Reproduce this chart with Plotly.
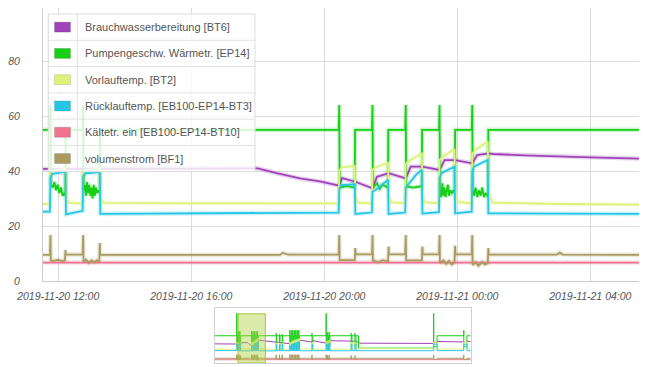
import plotly.graph_objects as go

# ---------------- main view data (2019-11-20 11:32 .. 2019-11-21 05:35) ----------------
bt6_t = ["2019-11-20 11:32:30", "2019-11-20 14:00", "2019-11-20 18:00", "2019-11-20 18:34", "2019-11-20 19:16",
         "2019-11-20 19:52", "2019-11-20 20:10", "2019-11-20 20:27", "2019-11-20 20:32", "2019-11-20 20:40",
         "2019-11-20 20:56", "2019-11-20 21:27", "2019-11-20 21:35", "2019-11-20 21:56", "2019-11-20 22:27",
         "2019-11-20 22:36", "2019-11-20 22:57", "2019-11-20 23:28", "2019-11-20 23:37", "2019-11-20 23:56",
         "2019-11-21 00:27", "2019-11-21 00:36", "2019-11-21 00:56", "2019-11-21 01:05", "2019-11-21 02:00",
         "2019-11-21 04:00", "2019-11-21 05:35"]
bt6_v = [40.8, 40.9, 41.0, 39.2, 37.3,
         36.2, 35.5, 34.7, 37.4, 36.9,
         36.1, 33.7, 37.9, 39.2, 37.3,
         41.6, 41.6, 40.4, 44.0, 44.0,
         42.8, 45.8, 46.4, 46.2, 45.7,
         45.0, 44.5]

ep14_t = ["2019-11-20 11:32:30", "2019-11-20 11:45", "2019-11-20 11:46", "2019-11-20 11:46:40", "2019-11-20 11:50",
          "2019-11-20 11:53", "2019-11-20 11:56", "2019-11-20 11:59", "2019-11-20 12:02", "2019-11-20 12:05",
          "2019-11-20 12:08", "2019-11-20 12:11", "2019-11-20 12:13", "2019-11-20 12:13:30", "2019-11-20 12:44",
          "2019-11-20 12:45", "2019-11-20 12:45:40", "2019-11-20 12:48", "2019-11-20 12:50", "2019-11-20 12:52",
          "2019-11-20 12:54", "2019-11-20 12:56", "2019-11-20 12:58", "2019-11-20 13:00", "2019-11-20 13:02",
          "2019-11-20 13:04", "2019-11-20 13:06", "2019-11-20 13:08", "2019-11-20 13:10", "2019-11-20 13:12",
          "2019-11-20 13:15", "2019-11-20 13:15:30",
          "2019-11-20 20:26", "2019-11-20 20:27", "2019-11-20 20:27:40", "2019-11-20 20:40", "2019-11-20 20:55",
          "2019-11-20 20:55:30",
          "2019-11-20 21:26", "2019-11-20 21:27", "2019-11-20 21:27:40", "2019-11-20 21:35", "2019-11-20 21:40",
          "2019-11-20 21:45", "2019-11-20 21:55", "2019-11-20 21:55:30",
          "2019-11-20 22:26", "2019-11-20 22:27", "2019-11-20 22:27:40", "2019-11-20 22:40", "2019-11-20 22:56",
          "2019-11-20 22:56:30",
          "2019-11-20 23:27", "2019-11-20 23:28", "2019-11-20 23:28:40", "2019-11-20 23:31", "2019-11-20 23:33",
          "2019-11-20 23:35", "2019-11-20 23:37", "2019-11-20 23:39", "2019-11-20 23:41", "2019-11-20 23:43",
          "2019-11-20 23:45", "2019-11-20 23:47", "2019-11-20 23:50", "2019-11-20 23:53", "2019-11-20 23:55:30",
          "2019-11-20 23:56",
          "2019-11-21 00:26", "2019-11-21 00:27", "2019-11-21 00:27:40", "2019-11-21 00:30", "2019-11-21 00:33",
          "2019-11-21 00:36", "2019-11-21 00:39", "2019-11-21 00:42", "2019-11-21 00:45", "2019-11-21 00:48",
          "2019-11-21 00:51", "2019-11-21 00:54", "2019-11-21 00:55:30", "2019-11-21 00:56",
          "2019-11-21 05:35"]
ep14_v = [55, 55, 64, 35, 34,
          36, 33, 35, 32, 34,
          31, 32, 31, 55, 55,
          64, 33, 35, 31, 36,
          32, 35, 31, 34, 30,
          35, 31, 34, 32, 33,
          32, 55,
          55, 64, 34, 34.5, 34,
          55,
          55, 64, 34, 35.5, 33.5,
          35, 34, 55,
          55, 64, 34.5, 34, 34.5,
          55,
          55, 64, 33, 30.5, 35.5,
          31, 34, 30.5, 33, 35,
          31, 33, 32, 33, 32,
          55,
          55, 64, 33, 31, 34,
          30.5, 33, 31, 34, 30.5,
          32, 31, 31.5, 55,
          55]

bt2_t = ["2019-11-20 11:32:30", "2019-11-20 11:45", "2019-11-20 11:46", "2019-11-20 11:50", "2019-11-20 12:13",
         "2019-11-20 12:14", "2019-11-20 12:20", "2019-11-20 12:44", "2019-11-20 12:45", "2019-11-20 12:50",
         "2019-11-20 13:15", "2019-11-20 13:16", "2019-11-20 13:22", "2019-11-20 16:00", "2019-11-20 20:26",
         "2019-11-20 20:27", "2019-11-20 20:31", "2019-11-20 20:55", "2019-11-20 20:56", "2019-11-20 21:01", "2019-11-20 21:26",
         "2019-11-20 21:27", "2019-11-20 21:31", "2019-11-20 21:55", "2019-11-20 21:56", "2019-11-20 22:01", "2019-11-20 22:26",
         "2019-11-20 22:27", "2019-11-20 22:31", "2019-11-20 22:56", "2019-11-20 22:57", "2019-11-20 23:02", "2019-11-20 23:27",
         "2019-11-20 23:28", "2019-11-20 23:32", "2019-11-20 23:55", "2019-11-20 23:56", "2019-11-21 00:01", "2019-11-21 00:26",
         "2019-11-21 00:27", "2019-11-21 00:31", "2019-11-21 00:55", "2019-11-21 00:56", "2019-11-21 01:04", "2019-11-21 03:00",
         "2019-11-21 05:35"]
bt2_v = [28.0, 28.0, 39.0, 40.0, 41.0,
         30.5, 28.4, 28.2, 39.5, 40.3,
         41.0, 30.5, 28.4, 28.2, 28.2,
         40.0, 41.3, 41.8, 30.5, 28.5, 28.2,
         40.5, 41.2, 43.0, 31.0, 28.6, 28.3,
         42.5, 43.5, 46.4, 31.0, 28.6, 28.3,
         44.0, 45.0, 48.0, 31.5, 28.7, 28.3,
         46.4, 47.5, 50.7, 32.0, 28.5, 28.0,
         27.8]

bt3_t = ["2019-11-20 11:32:30", "2019-11-20 11:45", "2019-11-20 11:46", "2019-11-20 11:49", "2019-11-20 12:13",
         "2019-11-20 12:14", "2019-11-20 12:44", "2019-11-20 12:45", "2019-11-20 12:49", "2019-11-20 13:15",
         "2019-11-20 13:16", "2019-11-20 16:00", "2019-11-20 20:26",
         "2019-11-20 20:27", "2019-11-20 20:30", "2019-11-20 20:55", "2019-11-20 20:56", "2019-11-20 21:26",
         "2019-11-20 21:27", "2019-11-20 21:35", "2019-11-20 21:48", "2019-11-20 21:55", "2019-11-20 21:56", "2019-11-20 22:26",
         "2019-11-20 22:27", "2019-11-20 22:31", "2019-11-20 22:45", "2019-11-20 22:56", "2019-11-20 22:57", "2019-11-20 23:27",
         "2019-11-20 23:28", "2019-11-20 23:31", "2019-11-20 23:55", "2019-11-20 23:56", "2019-11-21 00:26",
         "2019-11-21 00:27", "2019-11-21 00:30", "2019-11-21 00:55", "2019-11-21 00:56", "2019-11-21 03:00",
         "2019-11-21 05:35"]
bt3_v = [25.2, 25.2, 37.5, 39.0, 39.7,
         24.2, 25.5, 38.0, 39.2, 39.6,
         24.4, 24.5, 24.9,
         33.5, 34.9, 35.2, 24.4, 24.9,
         32.5, 33.5, 35.5, 36.8, 24.4, 24.9,
         34.0, 35.0, 38.5, 40.4, 24.5, 25.0,
         37.5, 39.2, 41.6, 24.6, 25.2,
         40.0, 41.6, 44.0, 24.6, 24.5,
         24.4]

bt10_t = ["2019-11-20 11:32:30", "2019-11-20 20:00", "2019-11-21 05:35"]
bt10_v = [6.7, 6.6, 6.7]

bf1_t = ["2019-11-20 11:32:30", "2019-11-20 11:45", "2019-11-20 11:46", "2019-11-20 11:46:40", "2019-11-20 11:50",
         "2019-11-20 12:00", "2019-11-20 12:08", "2019-11-20 12:12", "2019-11-20 12:13", "2019-11-20 12:13:40",
         "2019-11-20 12:44", "2019-11-20 12:45", "2019-11-20 12:45:40", "2019-11-20 12:50", "2019-11-20 12:55",
         "2019-11-20 13:00", "2019-11-20 13:05", "2019-11-20 13:10", "2019-11-20 13:14", "2019-11-20 13:15",
         "2019-11-20 13:15:40", "2019-11-20 18:40", "2019-11-20 18:45", "2019-11-20 18:55",
         "2019-11-20 20:26", "2019-11-20 20:27", "2019-11-20 20:27:40", "2019-11-20 20:55", "2019-11-20 20:56", "2019-11-20 20:56:40",
         "2019-11-20 21:26", "2019-11-20 21:27", "2019-11-20 21:27:40", "2019-11-20 21:38", "2019-11-20 21:45",
         "2019-11-20 21:55", "2019-11-20 21:56", "2019-11-20 21:56:40",
         "2019-11-20 22:26", "2019-11-20 22:27", "2019-11-20 22:27:40", "2019-11-20 22:56", "2019-11-20 22:57", "2019-11-20 22:57:40",
         "2019-11-20 23:27", "2019-11-20 23:28", "2019-11-20 23:28:40", "2019-11-20 23:35", "2019-11-20 23:40",
         "2019-11-20 23:45", "2019-11-20 23:50", "2019-11-20 23:55", "2019-11-20 23:56", "2019-11-20 23:56:40",
         "2019-11-21 00:26", "2019-11-21 00:27", "2019-11-21 00:27:40", "2019-11-21 00:33", "2019-11-21 00:38",
         "2019-11-21 00:45", "2019-11-21 00:50", "2019-11-21 00:55", "2019-11-21 00:56", "2019-11-21 00:56:40",
         "2019-11-21 03:00", "2019-11-21 03:05", "2019-11-21 03:10", "2019-11-21 05:35"]
bf1_v = [9.5, 9.5, 16.7, 7.5, 7.3,
         7.7, 7.2, 7.5, 11.3, 9.6,
         9.6, 16.7, 7.0, 7.8, 6.6,
         7.5, 6.8, 7.6, 6.7, 13.8,
         9.5, 9.5, 10.2, 9.6,
         9.6, 16.7, 7.6, 7.6, 12.0, 9.7,
         9.7, 16.7, 7.5, 6.8, 7.6,
         7.2, 12.5, 9.7,
         9.7, 16.7, 7.5, 7.5, 12.5, 9.7,
         9.7, 16.7, 6.5, 7.5, 6.2,
         7.3, 6.0, 6.8, 12.8, 9.7,
         9.7, 16.7, 5.8, 6.8, 5.5,
         6.9, 6.0, 6.5, 12.0, 9.6,
         9.6, 10.3, 9.6, 9.5]

# ---------------- overview data (range selector) before / after the main view ----------------
ov_bt6_pre_t = ["2019-11-19 20:23", "2019-11-20 10:45", "2019-11-20 11:15"]
ov_bt6_pre_v = [38.6, 38.3, 40.6]
ov_bt6_post_t = ["2019-11-21 12:00", "2019-11-21 21:40", "2019-11-22 04:10", "2019-11-22 12:20", "2019-11-22 12:51",
                 "2019-11-22 21:40", "2019-11-23 00:10", "2019-11-23 14:10", "2019-11-23 17:21", "2019-11-23 19:00",
                 "2019-11-23 20:00", "2019-11-25 20:35", "2019-11-25 22:50", "2019-11-26 16:25", "2019-11-26 18:30",
                 "2019-11-26 21:00"]
ov_bt6_post_v = [42.5, 39.0, 46.0, 42.5, 45.0,
                 40.0, 45.0, 43.5, 44.0, 41.0,
                 40.0, 39.5, 43.5, 42.5, 44.0,
                 43.5]

ov_ep14_pre_t = ["2019-11-19 20:23", "2019-11-20 10:45", "2019-11-20 10:46", "2019-11-20 11:13"]
ov_ep14_pre_v = [55, 100, 34, 55]
ov_ep14_post_t = ["2019-11-21 12:45", "2019-11-21 12:46", "2019-11-21 13:06", "2019-11-21 14:55", "2019-11-21 14:56",
                  "2019-11-21 15:16", "2019-11-21 16:40", "2019-11-21 16:41", "2019-11-21 17:01",
                  "2019-11-21 21:40", "2019-11-21 21:41", "2019-11-21 22:10", "2019-11-21 22:40", "2019-11-21 22:41",
                  "2019-11-21 23:10", "2019-11-21 23:40", "2019-11-21 23:41", "2019-11-22 00:10", "2019-11-22 00:40",
                  "2019-11-22 00:41", "2019-11-22 01:10", "2019-11-22 01:40", "2019-11-22 01:41", "2019-11-22 02:10",
                  "2019-11-22 02:40", "2019-11-22 02:41", "2019-11-22 03:10", "2019-11-22 03:40", "2019-11-22 03:41",
                  "2019-11-22 04:10", "2019-11-22 12:20", "2019-11-22 12:21", "2019-11-22 12:51",
                  "2019-11-22 21:40", "2019-11-22 21:41", "2019-11-22 22:10", "2019-11-22 22:40", "2019-11-22 22:41",
                  "2019-11-22 23:10", "2019-11-22 23:40", "2019-11-22 23:41", "2019-11-23 00:10",
                  "2019-11-23 14:10", "2019-11-23 14:11", "2019-11-23 14:41", "2019-11-23 16:40", "2019-11-23 16:41",
                  "2019-11-23 17:21", "2019-11-23 19:00", "2019-11-25 20:35", "2019-11-25 20:36", "2019-11-25 22:50",
                  "2019-11-26 16:25", "2019-11-26 16:26", "2019-11-26 18:30", "2019-11-26 21:00"]
ov_ep14_post_v = [60, 34, 55, 58, 34,
                  55, 58, 34, 55,
                  66, 33, 55, 66, 33,
                  55, 66, 33, 55, 66,
                  33, 55, 66, 33, 55,
                  66, 33, 55, 66, 33,
                  55, 60, 34, 55,
                  100, 33, 55, 62, 33,
                  55, 62, 33, 55,
                  60, 34, 55, 60, 34,
                  55, 30, 100, 33, 55,
                  66, 33, 55, 55]

ov_bt2_pre_t = ["2019-11-19 20:23", "2019-11-20 10:45", "2019-11-20 11:13"]
ov_bt2_pre_v = [28, 41, 28]
ov_bt2_post_t = ["2019-11-21 12:45", "2019-11-21 13:06", "2019-11-21 14:55", "2019-11-21 15:16", "2019-11-21 16:40",
                 "2019-11-21 17:01", "2019-11-21 21:40", "2019-11-21 22:10", "2019-11-21 22:40", "2019-11-21 23:10",
                 "2019-11-21 23:40", "2019-11-22 00:10", "2019-11-22 00:40", "2019-11-22 01:10", "2019-11-22 01:40",
                 "2019-11-22 02:10", "2019-11-22 02:40", "2019-11-22 03:10", "2019-11-22 03:40", "2019-11-22 04:10",
                 "2019-11-22 12:20", "2019-11-22 12:51", "2019-11-22 21:40", "2019-11-22 22:10", "2019-11-22 22:40",
                 "2019-11-22 23:10", "2019-11-22 23:40", "2019-11-23 00:10", "2019-11-23 14:10", "2019-11-23 14:41",
                 "2019-11-23 16:40", "2019-11-23 17:21", "2019-11-23 19:00", "2019-11-25 20:35", "2019-11-25 22:50",
                 "2019-11-26 16:25", "2019-11-26 18:30", "2019-11-26 21:00"]
ov_bt2_post_v = [40, 28, 40, 28, 40,
                 28, 41, 28.2, 43, 28.2,
                 45, 28.3, 46, 28.3, 47,
                 28.3, 48, 28.3, 49, 28.3,
                 41, 28, 42, 28, 44,
                 28, 46, 28, 41, 28,
                 42, 28, 29, 42, 28.5,
                 43, 28.3, 28.3]

ov_bt3_pre_t = ["2019-11-19 20:23", "2019-11-20 10:45", "2019-11-20 11:13"]
ov_bt3_pre_v = [25, 38, 25]
ov_bt3_post_t = ["2019-11-21 12:45", "2019-11-21 13:06", "2019-11-21 14:55", "2019-11-21 15:16", "2019-11-21 16:40",
                 "2019-11-21 17:01", "2019-11-21 21:40", "2019-11-21 22:10", "2019-11-21 22:40", "2019-11-21 23:10",
                 "2019-11-21 23:40", "2019-11-22 00:10", "2019-11-22 00:40", "2019-11-22 01:10", "2019-11-22 01:40",
                 "2019-11-22 02:10", "2019-11-22 02:40", "2019-11-22 03:10", "2019-11-22 03:40", "2019-11-22 04:10",
                 "2019-11-22 12:20", "2019-11-22 12:51", "2019-11-22 21:40", "2019-11-22 22:10", "2019-11-22 22:40",
                 "2019-11-22 23:10", "2019-11-22 23:40", "2019-11-23 00:10", "2019-11-23 14:10", "2019-11-23 14:41",
                 "2019-11-23 16:40", "2019-11-23 17:21", "2019-11-25 20:35", "2019-11-25 22:50", "2019-11-26 16:25",
                 "2019-11-26 18:30", "2019-11-26 21:00"]
ov_bt3_post_v = [37, 24.8, 37, 24.8, 37,
                 24.8, 35, 24.6, 37, 24.6,
                 39, 24.6, 40, 24.6, 41,
                 24.6, 42, 24.6, 43, 24.6,
                 37, 24.8, 37, 24.6, 39,
                 24.6, 41, 24.6, 37, 24.8,
                 38, 24.8, 38, 25, 38,
                 24.8, 24.8]

ov_bt10_pre_t = ["2019-11-19 20:23"]
ov_bt10_pre_v = [6.6]
ov_bt10_post_t = ["2019-11-26 21:00"]
ov_bt10_post_v = [6.6]

ov_bf1_pre_t = ["2019-11-19 20:23", "2019-11-20 10:45", "2019-11-20 10:46", "2019-11-20 11:12", "2019-11-20 11:13"]
ov_bf1_pre_v = [9.5, 16.7, 7.5, 12, 9.5]
ov_bf1_post_t = ["2019-11-21 12:45", "2019-11-21 12:46", "2019-11-21 13:06", "2019-11-21 14:55", "2019-11-21 14:56",
                 "2019-11-21 15:16", "2019-11-21 16:40", "2019-11-21 16:41", "2019-11-21 17:01",
                 "2019-11-21 21:40", "2019-11-21 21:41", "2019-11-21 22:10", "2019-11-21 22:40", "2019-11-21 22:41",
                 "2019-11-21 23:10", "2019-11-21 23:40", "2019-11-21 23:41", "2019-11-22 00:10", "2019-11-22 00:40",
                 "2019-11-22 00:41", "2019-11-22 01:10", "2019-11-22 01:40", "2019-11-22 01:41", "2019-11-22 02:10",
                 "2019-11-22 02:40", "2019-11-22 02:41", "2019-11-22 03:10", "2019-11-22 03:40", "2019-11-22 03:41",
                 "2019-11-22 04:10", "2019-11-22 12:20", "2019-11-22 12:21", "2019-11-22 12:51",
                 "2019-11-22 21:40", "2019-11-22 21:41", "2019-11-22 22:10", "2019-11-22 22:40", "2019-11-22 22:41",
                 "2019-11-22 23:10", "2019-11-22 23:40", "2019-11-22 23:41", "2019-11-23 00:10",
                 "2019-11-23 14:10", "2019-11-23 14:11", "2019-11-23 14:41", "2019-11-23 16:40", "2019-11-23 16:41",
                 "2019-11-23 17:21", "2019-11-25 20:35", "2019-11-25 20:36", "2019-11-25 22:50",
                 "2019-11-26 16:25", "2019-11-26 16:26", "2019-11-26 18:30", "2019-11-26 21:00"]
ov_bf1_post_v = [16.5, 7.2, 9.5, 16.5, 7.2,
                 9.5, 16.5, 7.2, 9.5,
                 16.7, 7, 9.6, 16.7, 7,
                 9.6, 16.7, 7, 9.6, 16.7,
                 7, 9.6, 16.7, 7, 9.6,
                 16.7, 7, 9.6, 16.7, 7,
                 9.6, 16, 7.2, 9.5,
                 16.7, 7, 9.6, 16, 7,
                 9.6, 16, 7, 9.6,
                 15, 7.2, 9.5, 15, 7.2,
                 9.5, 16, 7, 9.5,
                 16, 7, 9.5, 9.5]

# ---------------- labels / axes ----------------
series_names = ["Brauchwasserbereitung [BT6]", "Pumpengeschw. Wärmetr. [EP14]", "Vorlauftemp. [BT2]",
                "Rücklauftemp. [EB100-EP14-BT3]", "Kältetr. ein [EB100-EP14-BT10]", "volumenstrom [BF1]"]
series_colors = ["#a043b8", "#16cf16", "#def27a", "#26c6e6", "#f0738f", "#a99a5f"]
x_tickvals = ["2019-11-20 12:00", "2019-11-20 16:00", "2019-11-20 20:00", "2019-11-21 00:00", "2019-11-21 04:00"]
x_ticktext = ["2019-11-20 12:00", "2019-11-20 16:00", "2019-11-20 20:00", "2019-11-21 00:00", "2019-11-21 04:00"]
y_tickvals = [0, 20, 40, 60, 80]
main_range = ["2019-11-20 11:32:30", "2019-11-21 05:35"]
main_yrange = [0, 99.3]
overview_range = ["2019-11-19 20:23", "2019-11-26 21:00"]

main_series = [(bt6_t, bt6_v), (ep14_t, ep14_v), (bt2_t, bt2_v), (bt3_t, bt3_v), (bt10_t, bt10_v), (bf1_t, bf1_v)]
ov_series = [
    (ov_bt6_pre_t, ov_bt6_pre_v, ov_bt6_post_t, ov_bt6_post_v, "linear"),
    (ov_ep14_pre_t, ov_ep14_pre_v, ov_ep14_post_t, ov_ep14_post_v, "hv"),
    (ov_bt2_pre_t, ov_bt2_pre_v, ov_bt2_post_t, ov_bt2_post_v, "hv"),
    (ov_bt3_pre_t, ov_bt3_pre_v, ov_bt3_post_t, ov_bt3_post_v, "hv"),
    (ov_bt10_pre_t, ov_bt10_pre_v, ov_bt10_post_t, ov_bt10_post_v, "hv"),
    (ov_bf1_pre_t, ov_bf1_pre_v, ov_bf1_post_t, ov_bf1_post_v, "hv"),
]

fig = go.Figure()

# glow under main lines
for (t, v), c in zip(main_series, series_colors):
    fig.add_trace(go.Scatter(x=t, y=v, mode="lines", line=dict(color=c, width=4.5), opacity=0.22,
                             hoverinfo="skip", showlegend=False, xaxis="x", yaxis="y"))
for (t, v), c, n in zip(main_series, series_colors, series_names):
    fig.add_trace(go.Scatter(x=t, y=v, mode="lines", name=n, line=dict(color=c, width=1.8),
                             showlegend=False, xaxis="x", yaxis="y"))

# overview traces
for (pt, pv, qt, qv, shp), (t, v), c in zip(ov_series, main_series, series_colors):
    fig.add_trace(go.Scatter(x=pt + t + qt, y=pv + v + qv, mode="lines",
                             line=dict(color=c, width=1, shape=shp),
                             hoverinfo="skip", showlegend=False, xaxis="x2", yaxis="y2"))

# geometry: the page body adds an 8px offset, so the figure is laid out in page pixels minus 8
OFF = 8
W, H = 647 - OFF, 367 - OFF
ML, MT = 43 - OFF, 8 - OFF
MR, MB = 4, 4
PW = W - ML - MR
PH = H - MT - MB


def px(xp):
    return (xp - OFF - ML) / PW


def py(yp):
    return (H - MB - (yp - OFF)) / PH


shapes = []
annotations = []

# overview highlight (current view window)
shapes.append(dict(type="rect", xref="x2", yref="y2", x0=main_range[0], x1=main_range[1],
                   y0=main_yrange[0], y1=main_yrange[1], layer="above",
                   fillcolor="rgba(178,208,70,0.45)", line=dict(color="rgba(150,190,40,0.85)", width=1)))

# legend table
lx0, lx1, ly0, ly1 = 48.3, 255, 14, 171.7
rowh = (ly1 - ly0) / len(series_names)
shapes.append(dict(type="rect", xref="paper", yref="paper", x0=px(lx0), x1=px(lx1), y0=py(ly1), y1=py(ly0),
                   layer="above", fillcolor="rgba(255,255,255,0.82)", line=dict(color="#dddddd", width=1)))
shapes.append(dict(type="line", xref="paper", yref="paper", x0=px(77.3), x1=px(77.3), y0=py(ly1), y1=py(ly0),
                   layer="above", line=dict(color="#e2e2e2", width=1)))
for i, (n, c) in enumerate(zip(series_names, series_colors)):
    top = ly0 + i * rowh
    cy = top + rowh / 2
    if i > 0:
        shapes.append(dict(type="line", xref="paper", yref="paper", x0=px(lx0), x1=px(lx1), y0=py(top), y1=py(top),
                           layer="above", line=dict(color="#e2e2e2", width=1)))
    shapes.append(dict(type="rect", xref="paper", yref="paper", x0=px(54.5), x1=px(70.5), y0=py(cy + 5), y1=py(cy - 5),
                       layer="above", fillcolor=c, line=dict(color="rgba(0,0,0,0.12)", width=1)))
    annotations.append(dict(xref="paper", yref="paper", x=px(82.5), y=py(cy), text=n, showarrow=False,
                            xanchor="left", yanchor="middle",
                            font=dict(family="Liberation Sans, Arial, sans-serif", size=11, color="#555555")))

tick_font = dict(family="Liberation Sans, Arial, sans-serif", size=10.5, color="#555555", style="italic")

fig.update_layout(
    width=W, height=H,
    margin=dict(l=ML, r=MR, t=MT, b=MB, autoexpand=False),
    paper_bgcolor="white", plot_bgcolor="white",
    showlegend=False,
    shapes=shapes, annotations=annotations,
    xaxis=dict(domain=[0, 1], anchor="y", type="date", range=main_range,
               tickvals=x_tickvals, ticktext=x_ticktext, tickfont=tick_font, ticks="",
               ticklabelstandoff=5,
               showgrid=True, gridcolor="#dcdcdc", gridwidth=1, zeroline=False,
               showline=True, mirror=True, linecolor="#cccccc", linewidth=1),
    yaxis=dict(domain=[py(281), py(8)], anchor="x", range=main_yrange,
               tickvals=y_tickvals, tickfont=tick_font, ticks="", ticklabelstandoff=20,
               showgrid=True, gridcolor="#dcdcdc", gridwidth=1, zeroline=False,
               showline=True, mirror=True, linecolor="#cccccc", linewidth=1),
    xaxis2=dict(domain=[px(215), px(470.7)], anchor="y2", type="date", range=overview_range,
                showticklabels=False, ticks="", showgrid=False, zeroline=False,
                showline=True, mirror=True, linecolor="#cfcfcf", linewidth=1),
    yaxis2=dict(domain=[py(363), py(308)], anchor="x2", range=[0, 111],
                showticklabels=False, ticks="", showgrid=False, zeroline=False,
                showline=True, mirror=True, linecolor="#cfcfcf", linewidth=1),
)

fig.write_html("out.html")
